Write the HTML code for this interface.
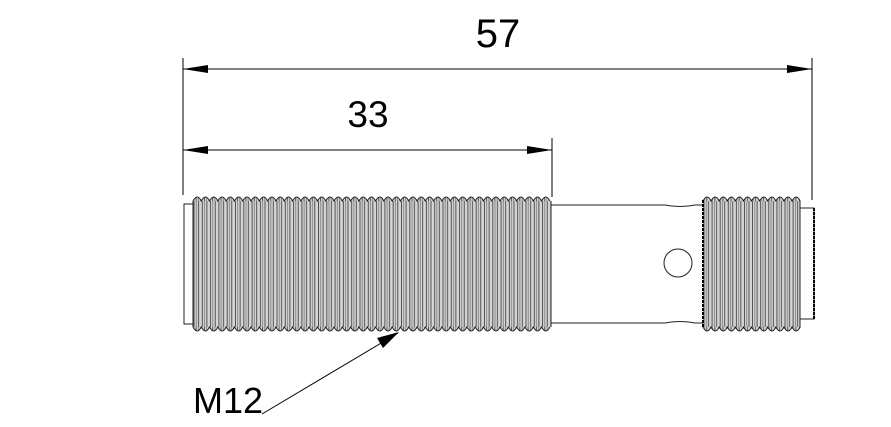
<!DOCTYPE html>
<html><head><meta charset="utf-8"><style>
html,body{margin:0;padding:0;background:#fff;}
svg{display:block;}
text{font-family:"Liberation Sans",sans-serif;fill:#000;}
</style></head><body>
<svg width="891" height="427" viewBox="0 0 891 427" xmlns="http://www.w3.org/2000/svg">
<defs>
<pattern id="th" x="193" y="0" width="8.3" height="427" patternUnits="userSpaceOnUse">
<rect x="0" y="0" width="8.3" height="427" fill="#d4d4d4"/>
<line x1="1" y1="0" x2="1" y2="427" stroke="#333" stroke-width="0.8"/>
<line x1="3.2" y1="0" x2="3.2" y2="427" stroke="#777" stroke-width="0.8"/>
<line x1="5.6" y1="0" x2="5.6" y2="427" stroke="#333" stroke-width="0.8"/>
</pattern>
<pattern id="th2" x="703" y="0" width="8.1" height="427" patternUnits="userSpaceOnUse">
<rect x="0" y="0" width="8.1" height="427" fill="#d4d4d4"/>
<line x1="1" y1="0" x2="1" y2="427" stroke="#333" stroke-width="0.8"/>
<line x1="3.2" y1="0" x2="3.2" y2="427" stroke="#777" stroke-width="0.8"/>
<line x1="5.5" y1="0" x2="5.5" y2="427" stroke="#333" stroke-width="0.8"/>
</pattern>
<path id="sc" d="M0,0 q4.15,-8 8.3,0 q4.15,-8 8.3,0 q4.15,-8 8.3,0 q4.15,-8 8.3,0 q4.15,-8 8.3,0 q4.15,-8 8.3,0 q4.15,-8 8.3,0 q4.15,-8 8.3,0 q4.15,-8 8.3,0 q4.15,-8 8.3,0 q4.15,-8 8.3,0 q4.15,-8 8.3,0 q4.15,-8 8.3,0 q4.15,-8 8.3,0 q4.15,-8 8.3,0 q4.15,-8 8.3,0 q4.15,-8 8.3,0 q4.15,-8 8.3,0 q4.15,-8 8.3,0 q4.15,-8 8.3,0 q4.15,-8 8.3,0 q4.15,-8 8.3,0 q4.15,-8 8.3,0 q4.15,-8 8.3,0 q4.15,-8 8.3,0 q4.15,-8 8.3,0 q4.15,-8 8.3,0 q4.15,-8 8.3,0 q4.15,-8 8.3,0 q4.15,-8 8.3,0 q4.15,-8 8.3,0 q4.15,-8 8.3,0 q4.15,-8 8.3,0 q4.15,-8 8.3,0 q4.15,-8 8.3,0 q4.15,-8 8.3,0 q4.15,-8 8.3,0 q4.15,-8 8.3,0 q4.15,-8 8.3,0 q4.15,-8 8.3,0 q4.15,-8 8.3,0 q4.15,-8 8.3,0 q4.15,-8 8.3,0"/>
<path id="sc2" d="M0,0 q4.05,-8 8.1,0 q4.05,-8 8.1,0 q4.05,-8 8.1,0 q4.05,-8 8.1,0 q4.05,-8 8.1,0 q4.05,-8 8.1,0 q4.05,-8 8.1,0 q4.05,-8 8.1,0 q4.05,-8 8.1,0 q4.05,-8 8.1,0 q4.05,-8 8.1,0 q4.05,-8 8.1,0"/>
</defs>
<!-- main thread -->
<rect x="193" y="201" width="358" height="126" fill="url(#th)"/>
<use href="#sc" x="193" y="201" fill="url(#th)" stroke="#222" stroke-width="1"/>
<use href="#sc" transform="translate(193,327) scale(1,-1)" fill="url(#th)" stroke="#222" stroke-width="1"/>
<line x1="193" y1="201" x2="193" y2="327" stroke="#222"/>
<line x1="551" y1="201" x2="551" y2="327" stroke="#222"/>
<!-- left cap -->
<rect x="184" y="204" width="9" height="120" fill="#fff" stroke="#222" stroke-width="1"/>
<!-- neck -->
<path d="M551,205 H665 Q680,208 695,205 H703 M551,323 H665 Q680,320 695,323 H703" fill="none" stroke="#222" stroke-width="1"/>
<circle cx="678" cy="263" r="14" fill="none" stroke="#222" stroke-width="1"/>
<!-- right thread -->
<rect x="703" y="201" width="97" height="126" fill="url(#th2)"/>
<use href="#sc2" x="703" y="201" fill="url(#th2)" stroke="#222" stroke-width="1"/>
<use href="#sc2" transform="translate(703,327) scale(1,-1)" fill="url(#th2)" stroke="#222" stroke-width="1"/>
<line x1="703" y1="200" x2="703" y2="328" stroke="#000" stroke-width="2" stroke-dasharray="3,1"/>
<line x1="800" y1="201" x2="800" y2="327" stroke="#222"/>
<!-- right cap -->
<rect x="800" y="208" width="14" height="111" fill="#fff" stroke="#222" stroke-width="1"/>
<line x1="814" y1="208" x2="814" y2="319" stroke="#000" stroke-width="2" stroke-dasharray="3,1"/>
<!-- dimension 57 -->
<line x1="183" y1="58" x2="183" y2="195" stroke="#000" stroke-width="1"/>
<line x1="812" y1="58" x2="812" y2="200" stroke="#000" stroke-width="1"/>
<line x1="183" y1="69" x2="812" y2="69" stroke="#000" stroke-width="1"/>
<path d="M183,69 L208,65 L208,73 Z" fill="#000"/>
<path d="M812,69 L787,65 L787,73 Z" fill="#000"/>
<text x="498" y="47" font-size="40" text-anchor="middle">57</text>
<!-- dimension 33 -->
<line x1="552" y1="138" x2="552" y2="197" stroke="#000" stroke-width="1"/>
<line x1="183" y1="150" x2="552" y2="150" stroke="#000" stroke-width="1"/>
<path d="M183,150 L208,146 L208,154 Z" fill="#000"/>
<path d="M552,150 L527,146 L527,154 Z" fill="#000"/>
<text x="368" y="127" font-size="37" text-anchor="middle">33</text>
<!-- M12 leader -->
<line x1="262" y1="414" x2="398" y2="333" stroke="#000" stroke-width="1"/>
<path d="M399,332 L377,338 L383,348 Z" fill="#000"/>
<text x="193" y="413" font-size="36">M12</text>
</svg>
</body></html>
